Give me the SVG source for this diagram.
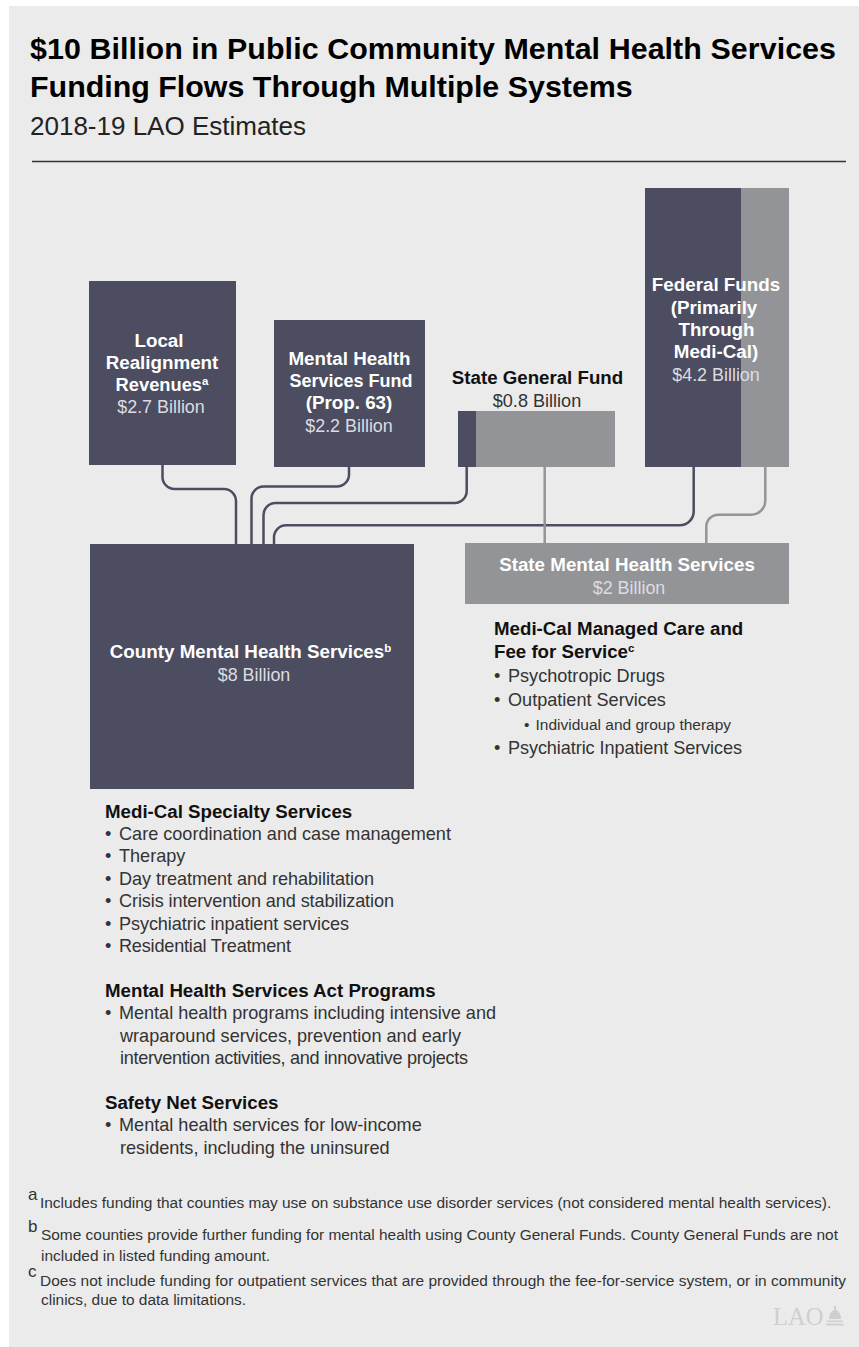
<svg xmlns="http://www.w3.org/2000/svg" width="859" height="1347" viewBox="0 0 859 1347">
<style>
text{font-family:"Liberation Sans",Arial,sans-serif}
.t{font-size:30.400px;font-weight:700;fill:#000}
.n{font-size:18.800px;font-weight:700;text-anchor:middle;fill:#fff}
.nv{font-size:17.900px;text-anchor:middle;fill:#dcdce2}
.l{font-size:18.100px;fill:#333}
.h{font-size:18.700px;font-weight:700;fill:#111}
.f{font-size:15.450px;fill:#333}
.s{font-size:17px;fill:#333}
.sup{font-size:11.500px}
.d{fill:#4c4d60}
.g{fill:#939497}
.cd{fill:none;stroke:#4c4d60;stroke-width:2.500}
.cg{fill:none;stroke:#939497;stroke-width:2.500}
</style>
<rect x="0" y="0" width="859" height="1347" fill="#fff"/>
<rect x="9" y="6" width="850" height="1341" fill="#ebebeb"/>
<g id="header">
<text class="t" x="30" y="59" textLength="806">$10 Billion in Public Community Mental Health Services</text>
<text class="t" x="30" y="97">Funding Flows Through Multiple Systems</text>
<text x="30" y="135" font-size="26" fill="#222">2018-19 LAO Estimates</text>
<line x1="32" y1="161.500" x2="846" y2="161.500" stroke="#333" stroke-width="1.300"/>
</g>
<g id="connectors">
<path class="cd" d="M162.500 465V477A12 12 0 0 0 174.500 489H224A12 12 0 0 1 236 501V544"/>
<path class="cd" d="M349 467V474.500A12 12 0 0 1 337 486.500H263.500A12 12 0 0 0 251.500 498.500V544"/>
<path class="cd" d="M466.700 467V491A12 12 0 0 1 454.700 503H275.500A12 12 0 0 0 263.500 515V544"/>
<path class="cd" d="M693.700 467V511A14 14 0 0 1 679.700 525.300H286A12 12 0 0 0 274 537.300V544"/>
<path class="cg" d="M544.700 467V543"/>
<path class="cg" d="M765.300 467V501A14 14 0 0 1 751.300 514.700H718.300A12 12 0 0 0 706.300 526.700V543"/>
</g>
<g id="local-realignment">
<rect class="d" x="89" y="281" width="147" height="184"/>
<text class="n" x="159" y="347">Local</text>
<text class="n" x="162" y="369">Realignment</text>
<text class="n" x="162" y="391" style="font-size:18.300px">Revenues<tspan class="sup" dy="-6">a</tspan></text>
<text class="nv" x="161" y="413">$2.7 Billion</text>
</g>
<g id="mhsf">
<rect class="d" x="274" y="320" width="151" height="147"/>
<text class="n" x="349.500" y="365">Mental Health</text>
<text class="n" x="351" y="387" style="font-size:18px">Services Fund</text>
<text class="n" x="349" y="409">(Prop. 63)</text>
<text class="nv" x="349" y="432">$2.2 Billion</text>
</g>
<g id="state-general-fund">
<rect class="d" x="458" y="411" width="18" height="56"/>
<rect class="g" x="476" y="411" width="139" height="56"/>
<text class="h" x="537.500" y="384" text-anchor="middle">State General Fund</text>
<text class="l" x="537" y="407" text-anchor="middle">$0.8 Billion</text>
</g>
<g id="federal-funds">
<rect class="d" x="645" y="188" width="96" height="279"/>
<rect class="g" x="741" y="188" width="48" height="279"/>
<text class="n" x="716" y="291">Federal Funds</text>
<text class="n" x="714" y="314">(Primarily</text>
<text class="n" x="716.500" y="336">Through</text>
<text class="n" x="716" y="358">Medi-Cal)</text>
<text class="nv" x="716" y="381">$4.2 Billion</text>
</g>
<g id="county-services">
<rect class="d" x="90" y="544" width="324" height="245"/>
<text class="n" x="250.500" y="658">County Mental Health Services<tspan class="sup" dy="-6">b</tspan></text>
<text class="nv" x="254" y="681">$8 Billion</text>
</g>
<g id="state-services">
<rect class="g" x="465" y="543" width="324" height="61"/>
<text class="n" x="627" y="571">State Mental Health Services</text>
<text class="nv" x="629" y="594">$2 Billion</text>
</g>
<g id="state-list">
<text class="h" x="494" y="635">Medi-Cal Managed Care and</text>
<text class="h" x="494" y="658">Fee for Service<tspan class="sup" dy="-6">c</tspan></text>
<text class="l" x="494" y="682">•</text><text class="l" x="508" y="682">Psychotropic Drugs</text>
<text class="l" x="494" y="706">•</text><text class="l" x="508" y="706">Outpatient Services</text>
<text x="524" y="730" font-size="15.500" fill="#333">•</text><text x="535.500" y="730" font-size="15.500" fill="#333">Individual and group therapy</text>
<text class="l" x="494" y="754">•</text><text class="l" x="508" y="754" textLength="234">Psychiatric Inpatient Services</text>
</g>
<g id="county-list">
<text class="h" x="105" y="818">Medi-Cal Specialty Services</text>
<text class="l" x="105" y="840">•</text><text class="l" x="119" y="840">Care coordination and case management</text>
<text class="l" x="105" y="862">•</text><text class="l" x="119" y="862">Therapy</text>
<text class="l" x="105" y="885">•</text><text class="l" x="119" y="885" textLength="255">Day treatment and rehabilitation</text>
<text class="l" x="105" y="907">•</text><text class="l" x="119" y="907" textLength="275">Crisis intervention and stabilization</text>
<text class="l" x="105" y="930">•</text><text class="l" x="119" y="930" textLength="230">Psychiatric inpatient services</text>
<text class="l" x="105" y="952">•</text><text class="l" x="119" y="952" textLength="172">Residential Treatment</text>
<text class="h" x="105" y="997">Mental Health Services Act Programs</text>
<text class="l" x="105" y="1019">•</text><text class="l" x="119" y="1019" textLength="377">Mental health programs including intensive and</text>
<text class="l" x="120" y="1042">wraparound services, prevention and early</text>
<text class="l" x="120" y="1064" textLength="348">intervention activities, and innovative projects</text>
<text class="h" x="105" y="1109">Safety Net Services</text>
<text class="l" x="105" y="1131">•</text><text class="l" x="119" y="1131">Mental health services for low-income</text>
<text class="l" x="120" y="1154">residents, including the uninsured</text>
</g>
<g id="footnotes">
<text class="s" x="28" y="1200">a</text>
<text class="f" x="40" y="1208">Includes funding that counties may use on substance use disorder services (not considered mental health services).</text>
<text class="s" x="28" y="1232">b</text>
<text class="f" x="41" y="1240" textLength="797">Some counties provide further funding for mental health using County General Funds. County General Funds are not</text>
<text class="f" x="41" y="1261">included in listed funding amount.</text>
<text class="s" x="28" y="1277">c</text>
<text class="f" x="40" y="1286" textLength="806">Does not include funding for outpatient services that are provided through the fee-for-service system, or in community</text>
<text class="f" x="41" y="1305">clinics, due to data limitations.</text>
</g>
<g id="logo" fill="#cfcfcf">
<text x="773" y="1325" font-size="24.500" style="font-family:'Liberation Serif',serif" fill="#cfcfcf">LAO</text>
<path d="M825 1325.500H845L842 1323.500H827ZM827 1322H843V1320.500H827ZM829 1319H841Q841 1312 836 1310V1306H834V1310Q829 1312 829 1319Z"/>
</g>
</svg>
